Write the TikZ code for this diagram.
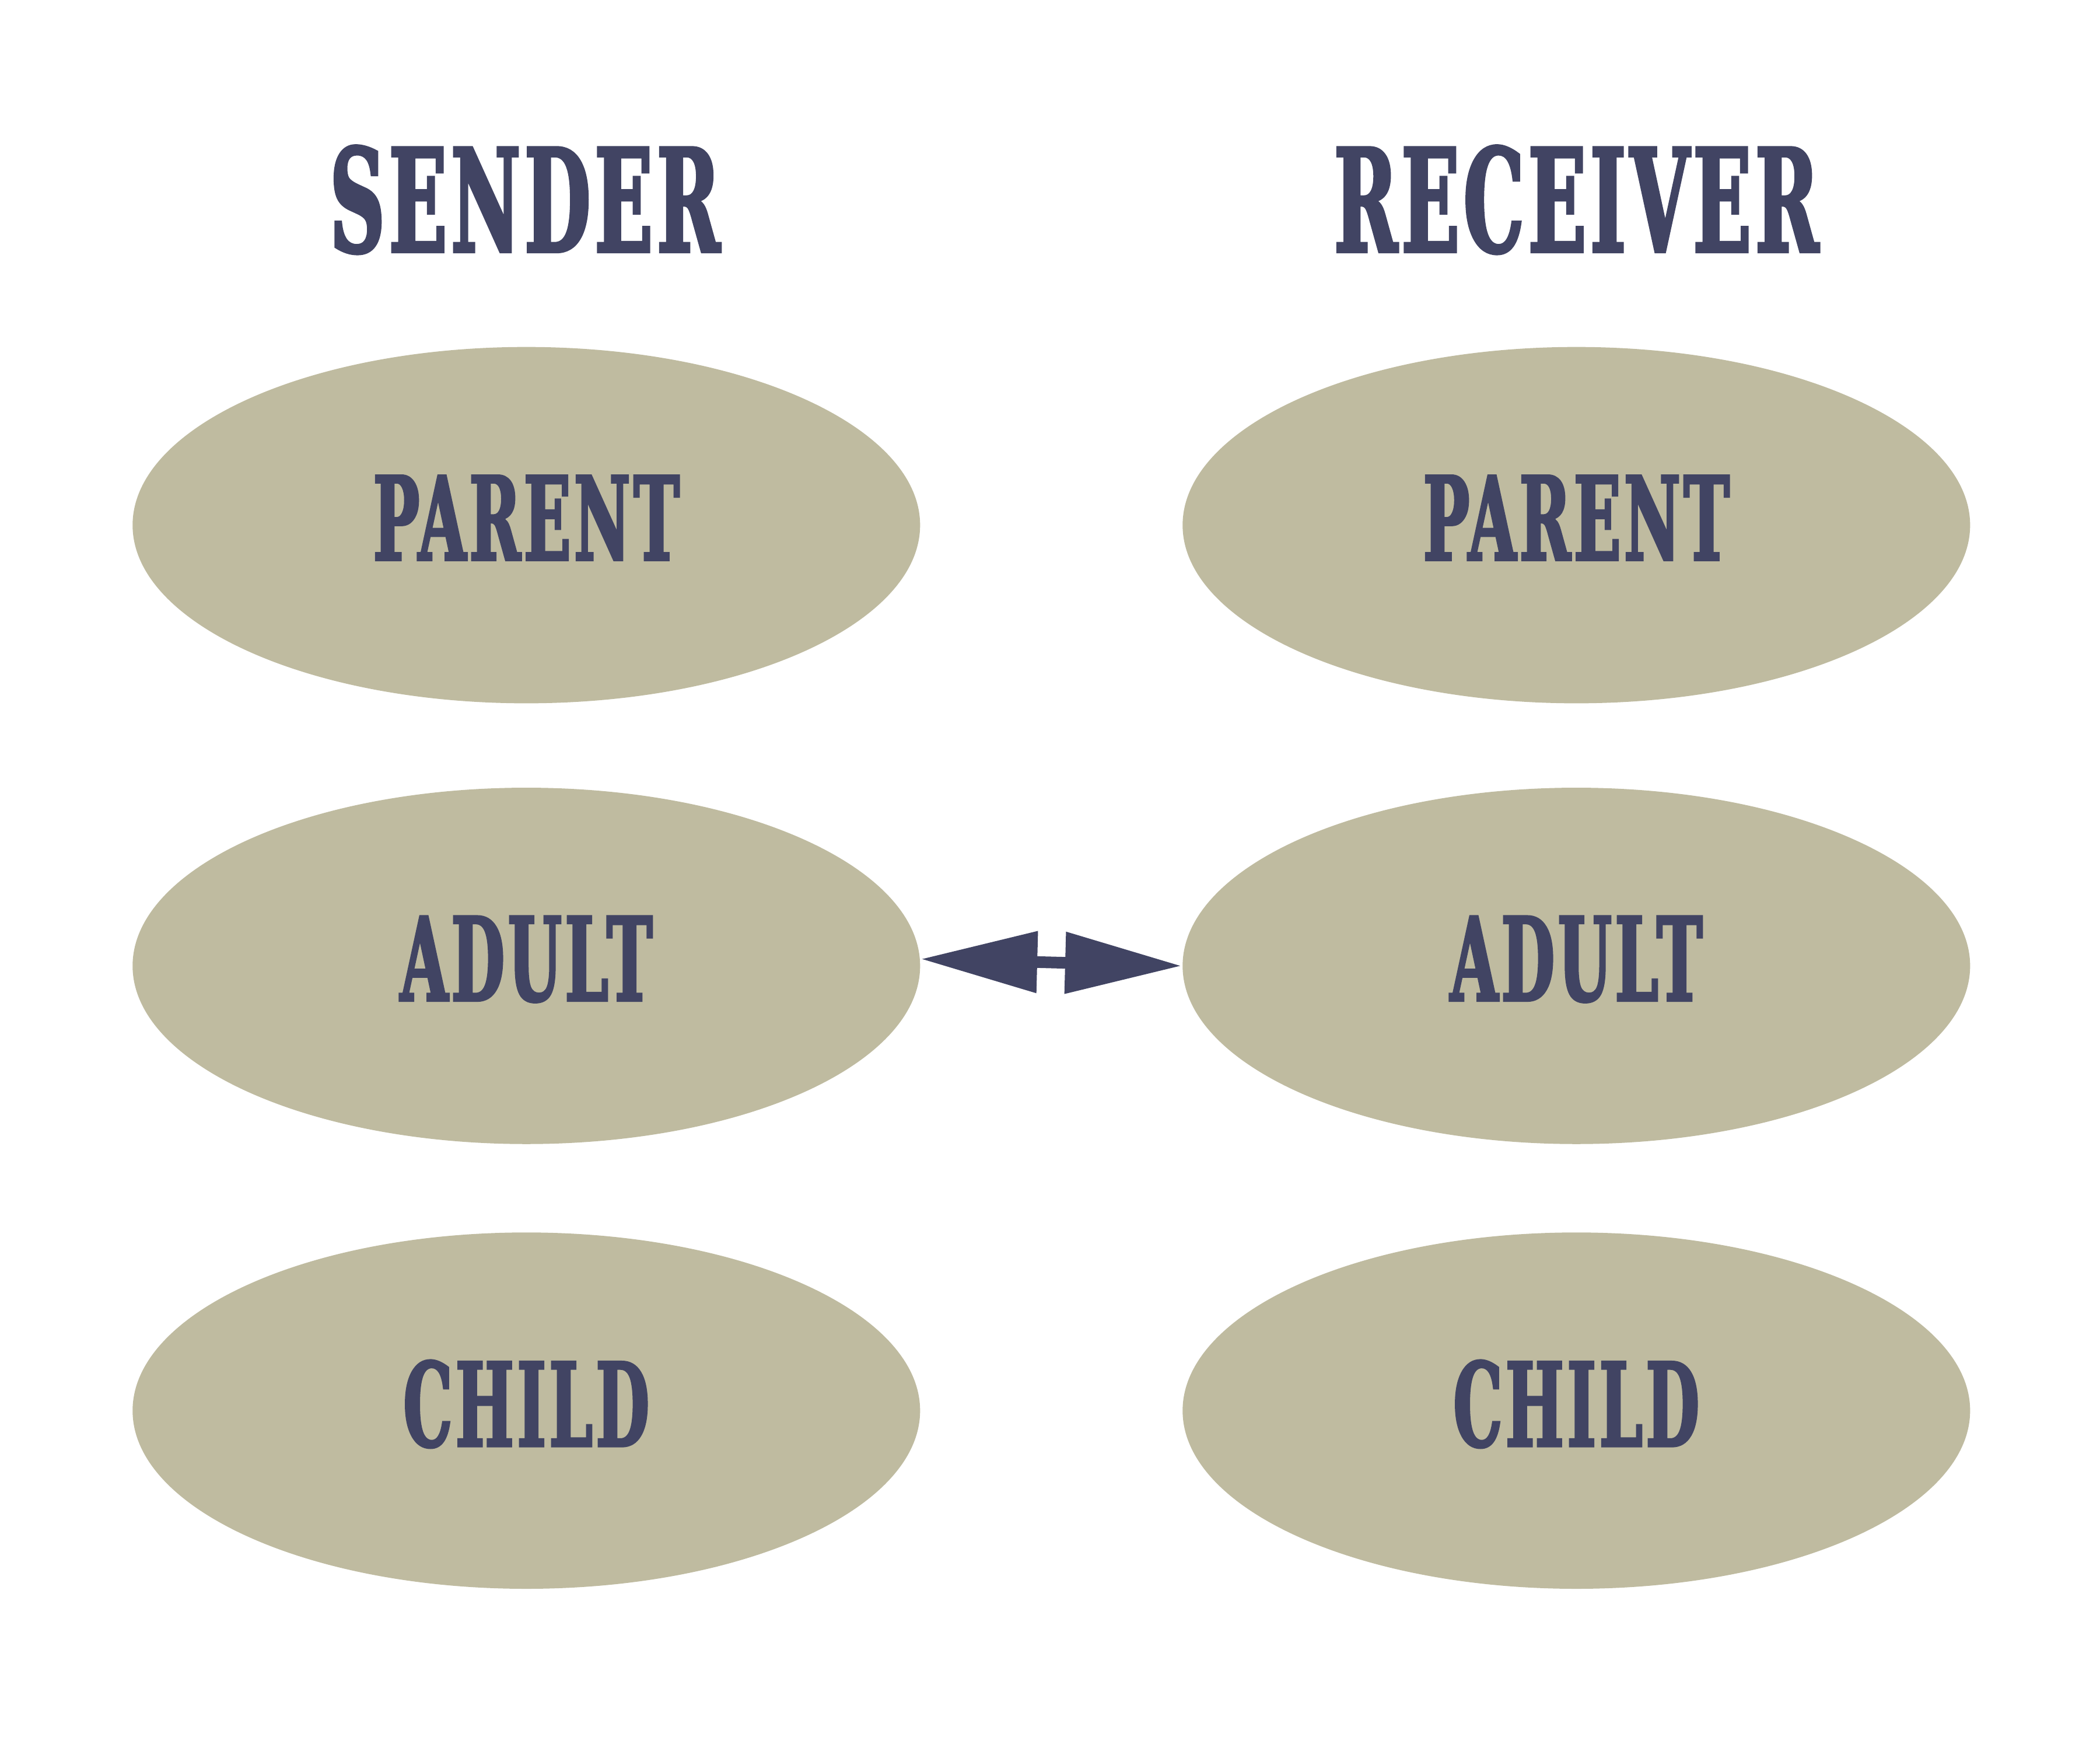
\documentclass[tikz,border=0pt]{standalone}
\usepackage{fontspec}
\newfontfamily\slabfont{DejaVu Serif}[FakeStretch=0.53,FakeBold=2,LetterSpace=3]
\usepackage{tikz}
\usetikzlibrary{shapes,arrows.meta,positioning}
\definecolor{ink}{HTML}{414463}
\definecolor{sand}{HTML}{BFBBA0}
\tikzset{
    egostate/.style={ellipse, fill=sand, minimum width=5.88cm, minimum height=2.66cm, inner sep=0pt, text=ink, text depth=0.11cm, font=\slabfont\bfseries\fontsize{24.6}{24.6}\selectfont},
    heading/.style={anchor=base, inner sep=0pt, text=ink, font=\slabfont\bfseries\fontsize{30.4}{30.4}\selectfont},
    link/.style={{Triangle[length=0.87cm,width=0.44cm]}-{Triangle[length=0.87cm,width=0.44cm]}, ink, line width=0.087cm}
}
\begin{document}
\begin{tikzpicture}
    \useasboundingbox (0,0) rectangle (15.68,-13.07);

    \node[heading] (sender) at (3.92,-1.88) {SENDER};
    \node[heading] (receiver) at (11.77,-1.88) {RECEIVER};

    \node[egostate] (sparent) at (3.93,-3.92) {PARENT};
    \node[egostate] (sadult) at (3.93,-7.21) {ADULT};
    \node[egostate] (schild) at (3.93,-10.53) {CHILD};

    \node[egostate] (rparent) at (11.77,-3.92) {PARENT};
    \node[egostate] (radult) at (11.77,-7.21) {ADULT};
    \node[egostate] (rchild) at (11.77,-10.53) {CHILD};

    \draw[link] (sadult.1.2) -- (radult.180.2);
\end{tikzpicture}
\end{document}
